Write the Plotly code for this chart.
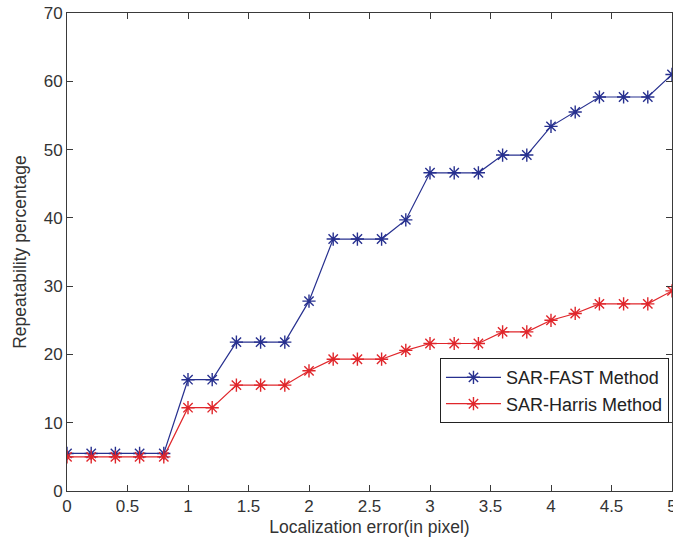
import plotly.graph_objects as go

x_vals = [0, 0.2, 0.4, 0.6, 0.8, 1.0, 1.2, 1.4, 1.6, 1.8, 2.0, 2.2, 2.4, 2.6, 2.8,
          3.0, 3.2, 3.4, 3.6, 3.8, 4.0, 4.2, 4.4, 4.6, 4.8, 5.0]
fast_vals = [5.5, 5.5, 5.5, 5.5, 5.5, 16.3, 16.3, 21.8, 21.8, 21.8, 27.8, 36.9, 36.9, 36.9, 39.7,
             46.6, 46.6, 46.6, 49.2, 49.2, 53.4, 55.5, 57.7, 57.7, 57.7, 61.0]
harris_vals = [5.0, 5.0, 5.0, 5.0, 5.0, 12.2, 12.2, 15.5, 15.5, 15.5, 17.6, 19.3, 19.3, 19.3, 20.6,
               21.6, 21.6, 21.6, 23.3, 23.3, 25.0, 26.0, 27.4, 27.4, 27.4, 29.3]
series_names = ["SAR-FAST Method", "SAR-Harris Method"]
x_ticks = [0, 0.5, 1, 1.5, 2, 2.5, 3, 3.5, 4, 4.5, 5]
x_tick_text = ["0", "0.5", "1", "1.5", "2", "2.5", "3", "3.5", "4", "4.5", "5"]
y_ticks = [0, 10, 20, 30, 40, 50, 60, 70]

blue = "#27308f"
red = "#e0262b"
axis_col = "#3a3a3a"
font_fam = "Liberation Sans, Arial, sans-serif"

fig = go.Figure()
for name, vals, col in [(series_names[0], fast_vals, blue), (series_names[1], harris_vals, red)]:
    fig.add_trace(go.Scatter(
        x=x_vals, y=vals, name=name, mode="lines+markers",
        line=dict(color=col, width=1.2),
        marker=dict(symbol="asterisk-open", size=11, color=col, line=dict(color=col, width=1.4)),
    ))

axis_common = dict(
    showgrid=False, zeroline=False, showline=True, linecolor=axis_col, linewidth=1,
    mirror="allticks", ticks="inside", ticklen=6, tickcolor=axis_col, tickwidth=1,
    tickfont=dict(family=font_fam, size=17, color="#333333"),
    ticklabeloverflow="allow", automargin=False,
)

fig.update_layout(
    width=673, height=543,
    margin=dict(l=67, r=1, t=13, b=52),
    paper_bgcolor="white", plot_bgcolor="white",
    font=dict(family=font_fam, color="#333333"),
    xaxis=dict(range=[0, 5], tickvals=x_ticks, ticktext=x_tick_text,
               title=dict(text="Localization error(in pixel)", font=dict(size=17.5, family=font_fam, color="#333333"), standoff=5),
               **axis_common),
    yaxis=dict(range=[0, 70], tickvals=y_ticks,
               title=dict(text="Repeatability percentage", font=dict(size=17.5, family=font_fam, color="#333333"), standoff=12),
               **axis_common),
    legend=dict(
        x=0.995, y=0.278, xanchor="right", yanchor="top",
        bgcolor="white", bordercolor="#222222", borderwidth=1,
        font=dict(family=font_fam, size=18, color="#222222"),
        itemwidth=55, tracegroupgap=0,
    ),
    showlegend=True,
)

fig.write_html("out.html")
